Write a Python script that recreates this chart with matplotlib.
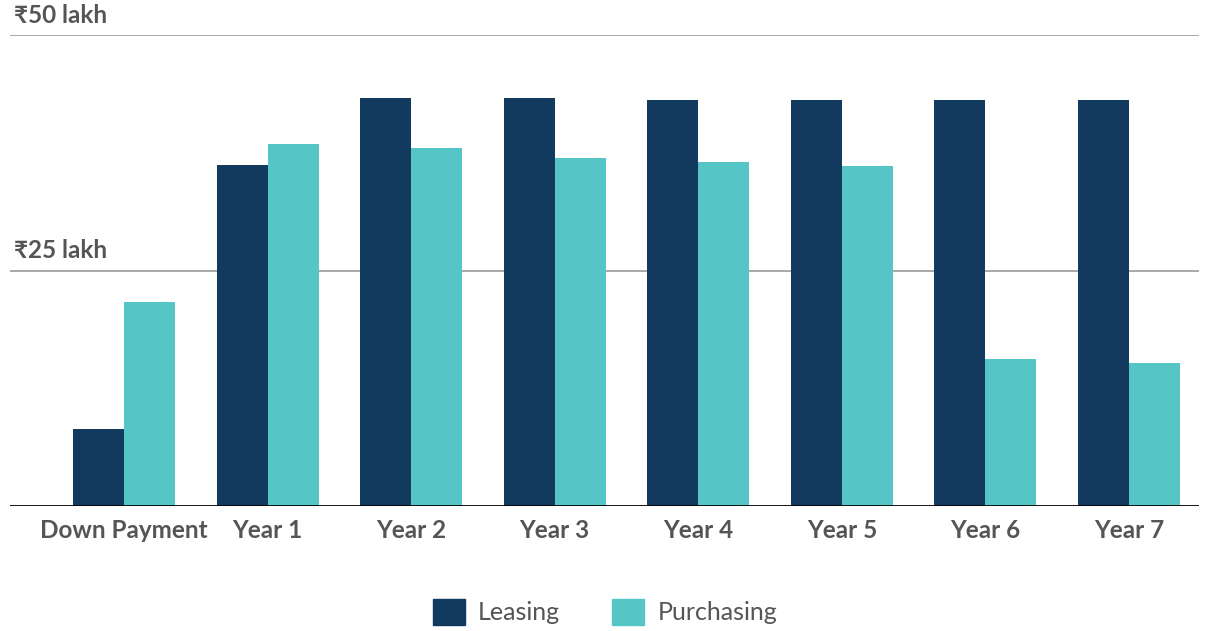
import numpy as np
import matplotlib
matplotlib.use('Agg')
import matplotlib.pyplot as plt
from matplotlib.patches import Patch

categories = ["Down Payment", "Year 1", "Year 2", "Year 3", "Year 4", "Year 5", "Year 6", "Year 7"]
leasing = [8.2, 36.2, 43.3, 43.3, 43.1, 43.1, 43.1, 43.1]
purchasing = [21.7, 38.4, 38.0, 36.9, 36.5, 36.1, 15.6, 15.2]
y_ticks = [25, 50]
y_labels = ["₹25 lakh", "₹50 lakh"]

navy = "#123a5f"
teal = "#55c5c5"
text_grey = "#555555"

plt.rcParams['font.family'] = ['Lato', 'DejaVu Sans']

fig = plt.figure(figsize=(12.07, 6.31), dpi=100)
ax = fig.add_axes([10 / 1207, 125 / 631, 1189 / 1207, 471 / 631])

x = np.arange(len(categories))
w = 0.355
ax.bar(x - w / 2, leasing, width=w, color=navy, zorder=3)
ax.bar(x + w / 2, purchasing, width=w, color=teal, zorder=3)

ax.set_xlim(-0.794, 7.488)
ax.set_ylim(0, 50)

# horizontal gridlines with labels sitting above them
for val, lab in zip(y_ticks, y_labels):
    ax.axhline(val, color="#999999", lw=1.2, zorder=1)
    ax.text(0.003, val + 0.9, lab, transform=ax.get_yaxis_transform(),
            ha="left", va="bottom", fontsize=17.5, fontweight="bold", color=text_grey)
ax.axhline(0, color="black", lw=2, zorder=4)

for s in ax.spines.values():
    s.set_visible(False)
ax.set_yticks([])
ax.set_xticks(x)
ax.set_xticklabels(categories, fontsize=17.5, fontweight="bold", color=text_grey)
ax.tick_params(axis="x", length=0, pad=9)

handles = [Patch(color=navy, label="Leasing"), Patch(color=teal, label="Purchasing")]
fig.legend(handles=handles, loc="center", bbox_to_anchor=(605 / 1207, 1 - 612 / 631),
           ncol=2, frameon=False, fontsize=18, labelcolor=text_grey,
           handlelength=1.28, handleheight=1.28, handletextpad=0.52, columnspacing=2.1)

fig.savefig("out.png", dpi=100)
